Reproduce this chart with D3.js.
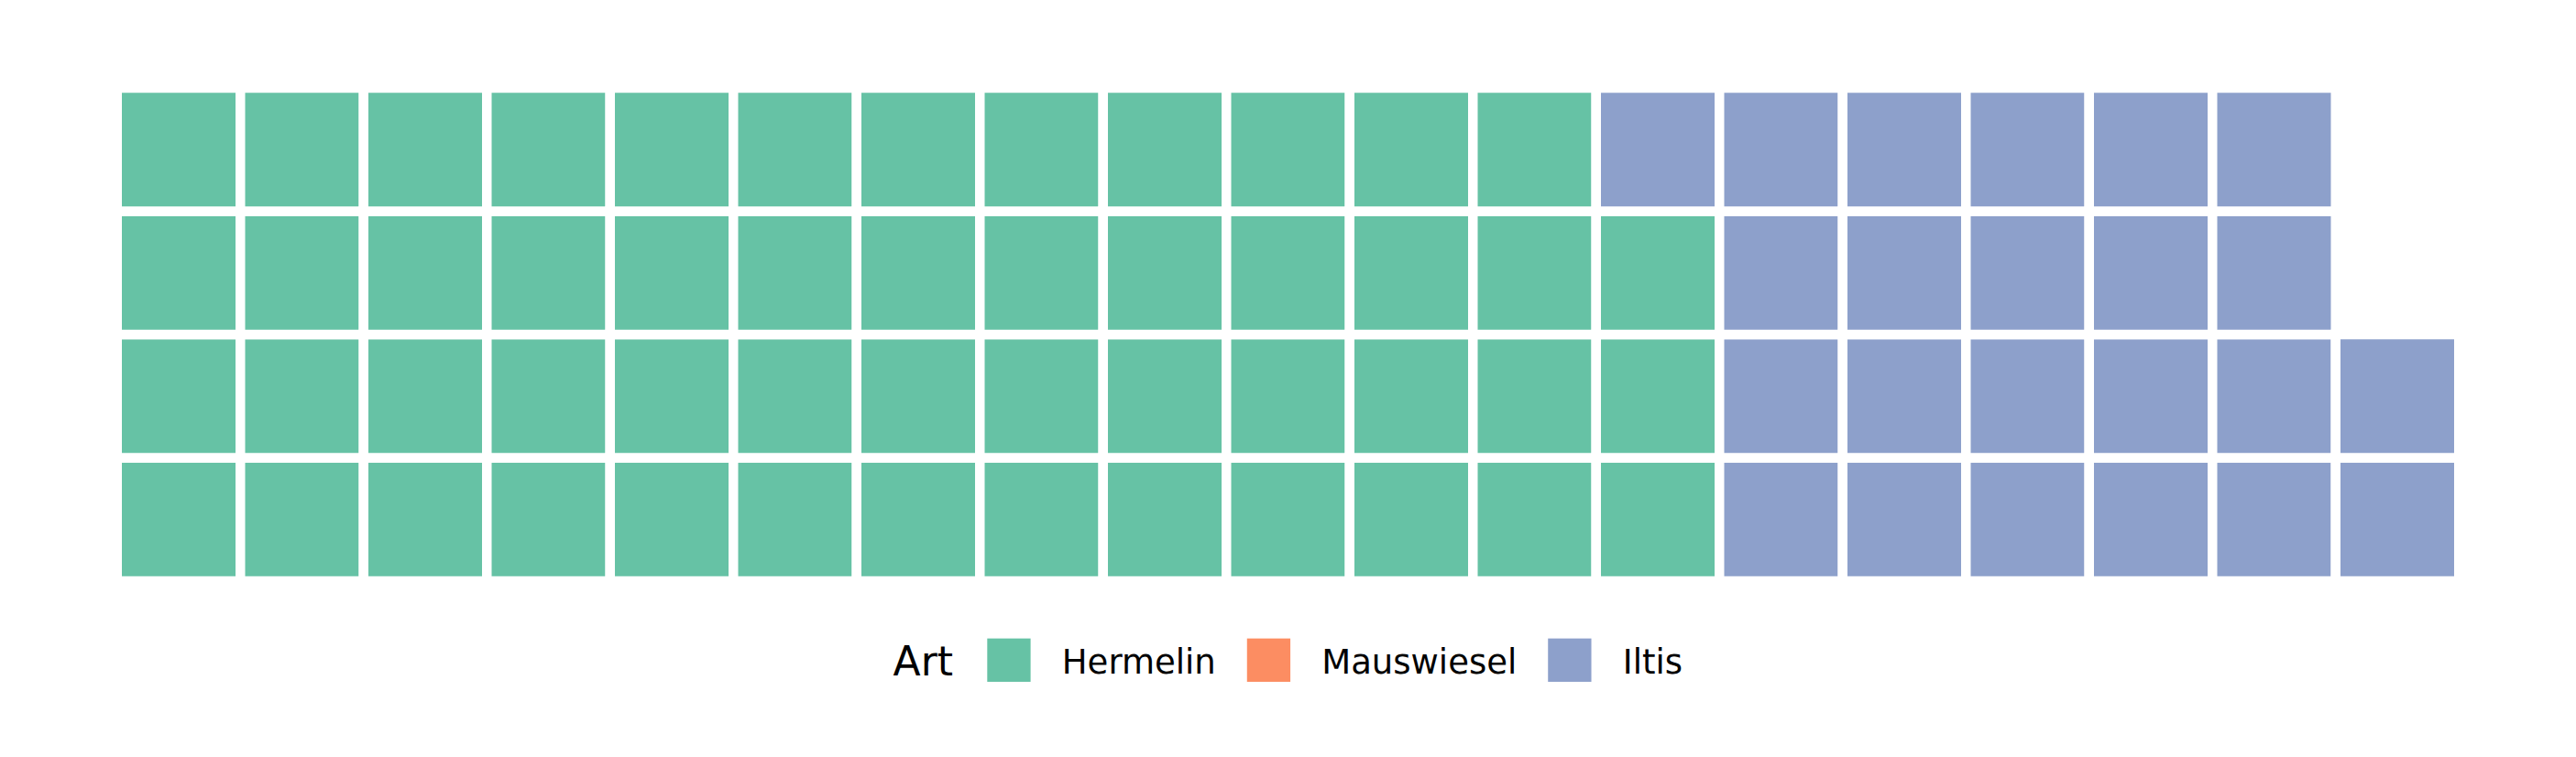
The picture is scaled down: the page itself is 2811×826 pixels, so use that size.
<!DOCTYPE html>
<html>
<head>
<meta charset="utf-8">
<script src="https://cdn.jsdelivr.net/npm/d3@7"></script>
<style>
  html, body { margin: 0; padding: 0; background: #ffffff; }
  svg { display: block; }
  text { font-family: "DejaVu Sans", sans-serif; }
</style>
</head>
<body>
<svg id="chart" width="2811" height="826"></svg>
<script>
// Data
const categories = ["Hermelin", "Mauswiesel", "Iltis"];
const counts = [51, 0, 23];
const colors = ["#66c2a5", "#fc8d62", "#8da0cb"];
const legendTitle = "Art";
const nRows = 4;

// Build tiles: fill column by column, bottom to top
const tiles = [];
let idx = 0;
categories.forEach((cat, ci) => {
  for (let k = 0; k < counts[ci]; k++) {
    const col = Math.floor(idx / nRows) + 1;
    const row = (idx % nRows) + 1;
    tiles.push({ cat, col, row });
    idx++;
  }
});
const nCols = Math.ceil(idx / nRows);

const svg = d3.select("#chart");
const x = d3.scaleLinear().domain([0.5, nCols + 0.5]).range([127.75, 2683.25]);
const y = d3.scaleLinear().domain([0.5, nRows + 0.5]).range([634.0, 96.0]);
const color = d3.scaleOrdinal().domain(categories).range(colors);

const unitX = x(1.5) - x(0.5);
const unitY = y(0.5) - y(1.5);

svg.append("g").selectAll("rect")
  .data(tiles)
  .join("rect")
  .attr("x", d => x(d.col - 0.5))
  .attr("y", d => y(d.row + 0.5))
  .attr("width", unitX)
  .attr("height", unitY)
  .attr("fill", d => color(d.cat))
  .attr("stroke", "#ffffff")
  .attr("stroke-width", 10.5);

// Legend
const lg = svg.append("g");
const baseY = 736.5;
const keySize = 47.3;
const keyCY = 720.3;
let cx = 974.6;
const title = lg.append("text")
  .attr("x", cx).attr("y", baseY)
  .attr("font-size", 44).attr("fill", "#000")
  .text(legendTitle);
cx = 1077.3;
categories.forEach((cat, i) => {
  lg.append("rect")
    .attr("x", cx).attr("y", keyCY - keySize / 2)
    .attr("width", keySize).attr("height", keySize)
    .attr("fill", color(cat));
  cx += keySize + 34.2;
  const t = lg.append("text")
    .attr("x", cx).attr("y", 734.5)
    .attr("font-size", 37).attr("fill", "#000")
    .text(cat);
  cx += t.node().getComputedTextLength() + 34;
});
</script>
</body>
</html>
